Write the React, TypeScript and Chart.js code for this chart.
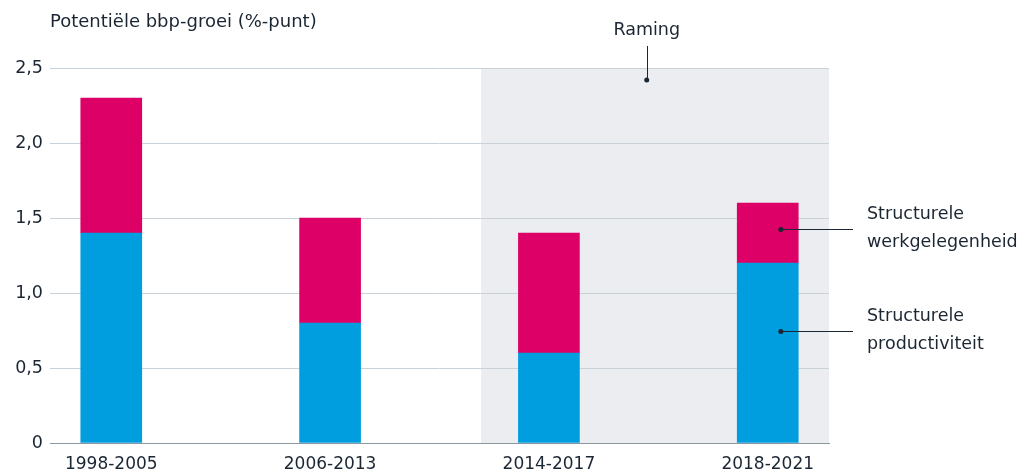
import React, { useEffect, useRef } from "react";
import { Chart, registerables } from "chart.js";

Chart.register(...registerables);

const categories = ["1998-2005", "2006-2013", "2014-2017", "2018-2021"];
const productiviteit = [1.4, 0.8, 0.6, 1.2];
const werkgelegenheid = [0.9, 0.7, 0.8, 0.4];
const yTickValues = [0, 0.5, 1, 1.5, 2, 2.5];
const yTitle = "Potentiële bbp-groei (%-punt)";
const forecastLabel = "Raming";
const forecastStart = 1.69;
const labelWerk = ["Structurele", "werkgelegenheid"];
const labelProd = ["Structurele", "productiviteit"];

const BLUE = "#009ddf";
const PINK = "#dc0067";
const SHADE = "#ebedf1";
const TEXT = "#1b2633";
const FONT = "'DejaVu Sans', Verdana, sans-serif";

const annotationPlugin = {
  id: "annotations",
  beforeDraw(chart: any) {
    const { ctx, chartArea, scales } = chart;
    const x = scales.x;
    const left = x.getPixelForValue(forecastStart);
    ctx.save();
    ctx.fillStyle = SHADE;
    ctx.fillRect(left, chartArea.top, chartArea.right - left, chartArea.bottom - chartArea.top);
    ctx.restore();
  },
  afterDraw(chart: any) {
    const { ctx, chartArea, scales } = chart;
    const x = scales.x;
    const y = scales.y;
    ctx.save();
    ctx.fillStyle = TEXT;
    ctx.strokeStyle = TEXT;
    ctx.lineWidth = 1;
    // axis title
    ctx.font = `18px ${FONT}`;
    ctx.textAlign = "left";
    ctx.textBaseline = "middle";
    ctx.fillText(yTitle, chartArea.left, chartArea.top - 46);

    ctx.font = `17.5px ${FONT}`;
    // Raming
    const rx = x.getPixelForValue(2.447);
    const ry = y.getPixelForValue(2.42);
    ctx.textAlign = "center";
    ctx.fillText(forecastLabel, rx, chartArea.top - 38);
    ctx.beginPath();
    ctx.moveTo(Math.round(rx) + 0.5, chartArea.top - 22);
    ctx.lineTo(Math.round(rx) + 0.5, ry);
    ctx.stroke();
    ctx.beginPath();
    ctx.arc(rx, ry, 2.5, 0, Math.PI * 2);
    ctx.fill();

    // series labels
    const drawLabel = (xv: number, yv: number, lines: string[]) => {
      const px = x.getPixelForValue(xv);
      const py = Math.round(y.getPixelForValue(yv)) + 0.5;
      ctx.beginPath();
      ctx.moveTo(px, py);
      ctx.lineTo(chartArea.right + 24, py);
      ctx.stroke();
      ctx.beginPath();
      ctx.arc(px, py, 2.5, 0, Math.PI * 2);
      ctx.fill();
      ctx.textAlign = "left";
      ctx.fillText(lines[0], chartArea.right + 38, py - 15);
      ctx.fillText(lines[1], chartArea.right + 38, py + 13);
    };
    drawLabel(3.06, 1.43, labelWerk);
    drawLabel(3.06, 0.75, labelProd);
    ctx.restore();
  },
};

export default function App() {
  const ref = useRef<HTMLCanvasElement | null>(null);
  useEffect(() => {
    if (!ref.current) return;
    const chart = new Chart(ref.current, {
      type: "bar",
      data: {
        datasets: [
          {
            label: "Structurele productiviteit",
            data: productiviteit.map((v, i) => ({ x: i, y: v })),
            backgroundColor: BLUE,
            barThickness: 61,
          },
          {
            label: "Structurele werkgelegenheid",
            data: werkgelegenheid.map((v, i) => ({ x: i, y: v })),
            backgroundColor: PINK,
            barThickness: 61,
          },
        ],
      },
      options: {
        responsive: false,
        animation: false,
        events: [],
        layout: { padding: { top: 68, right: 204, left: 0, bottom: 0 } },
        plugins: { legend: { display: false }, tooltip: { enabled: false } },
        scales: {
          x: {
            type: "linear",
            stacked: true,
            offset: false,
            min: -0.28,
            max: 3.28,
            grid: { display: false, drawTicks: false },
            border: { display: true, color: "#8d979f", width: 1 },
            afterBuildTicks: (scale: any) => {
              scale.ticks = categories.map((_, i) => ({ value: i }));
            },
            afterFit: (scale: any) => {
              scale.height = 31;
            },
            ticks: {
              padding: 11,
              color: TEXT,
              font: { family: FONT, size: 17 },
              maxRotation: 0,
              autoSkip: false,
              callback: (v: any) => categories[v] ?? "",
            },
          },
          y: {
            stacked: true,
            min: 0,
            max: 2.5,
            afterBuildTicks: (scale: any) => {
              scale.ticks = yTickValues.map((v) => ({ value: v }));
            },
            afterFit: (scale: any) => {
              scale.width = 50;
            },
            grid: {
              drawTicks: false,
              color: (c: any) => (c.tick && c.tick.value === 0 ? "rgba(0,0,0,0)" : "#cad2d9"),
            },
            border: { display: false },
            ticks: {
              padding: 7,
              color: TEXT,
              font: { family: FONT, size: 17.5 },
              callback: (v: any) => (v === 0 ? "0" : Number(v).toFixed(1).replace(".", ",")),
            },
          },
        },
      },
      plugins: [annotationPlugin],
    });
    return () => chart.destroy();
  }, []);
  return (
    <div style={{ position: "absolute", left: 0, top: 0, width: 1033, height: 474, background: "#fff" }}>
      <canvas ref={ref} width={1033} height={474} />
    </div>
  );
}
